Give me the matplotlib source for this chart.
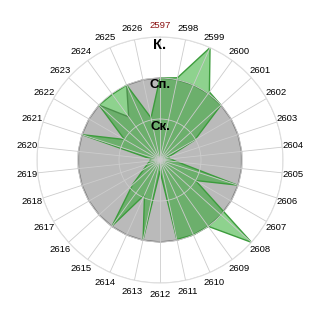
import numpy as np
import matplotlib
matplotlib.use("Agg")
import matplotlib.pyplot as plt

plt.rcParams['font.family'] = ['Liberation Sans', 'DejaVu Sans']

categories = [str(c) for c in range(2597, 2627)]
green_values = [2.0, 2.05, 3.0, 2.05, 2.0, 0.98, 0.2, 0.25, 0.42, 1.98,
                1.0, 3.0, 2.0, 2.0, 1.98, 0.27, 1.98, 0.93, 1.98, 0.9,
                0.46, 0.32, 0.25, 0.22, 2.0, 1.0, 2.0, 1.98, 2.0, 1.05]
gray_values = [2.0] * 27 + [1.3, 2.0, 2.0]
level_values = [1, 2, 3]
level_labels = ["Ск.", "Сп.", "К."]

n = len(categories)
theta = np.arange(n) * 2 * np.pi / n

fig = plt.figure(figsize=(3.2, 3.2), dpi=100)
R = 123 / 320
ax = fig.add_axes([0.5 - R, 0.5 - R, 2 * R, 2 * R], projection='polar')
ax.set_theta_zero_location('N')
ax.set_theta_direction(-1)
ax.set_ylim(0, 3)

tc = np.concatenate([theta, theta[:1]])
gv = np.concatenate([gray_values, gray_values[:1]])
grv = np.concatenate([green_values, green_values[:1]])

ax.fill(tc, gv, facecolor='#bababa', edgecolor='#7a7a7a', linewidth=1.0, zorder=1)
ax.fill(tc, grv, facecolor=(0.12, 0.65, 0.12, 0.5), edgecolor='#3c9c3c', linewidth=1.0, zorder=1.1)

ax.set_xticks(theta)
ax.set_xticklabels([])
ax.set_yticks(level_values)
ax.set_yticklabels([])
ax.grid(True, color=(0.80, 0.80, 0.80, 0.6), linewidth=0.6)
ax.spines['polar'].set_color('#dedede')
ax.spines['polar'].set_linewidth(0.8)
ax.tick_params(length=0)

for t, lab in zip(theta, categories):
    col = '#8b1010' if lab == categories[0] else 'black'
    ax.text(t, 3.27, lab, ha='center', va='center', fontsize=6.8, color=col, clip_on=False)

offsets = [0.20, 0.18, 0.19]
sizes = [9.5, 9.5, 10.5]
for v, lab, off, sz in zip(level_values, level_labels, offsets, sizes):
    ax.text(0, v - off, lab, ha='center', va='center', fontsize=sz, fontweight='bold', zorder=5)

fig.savefig('out.png', dpi=100)
